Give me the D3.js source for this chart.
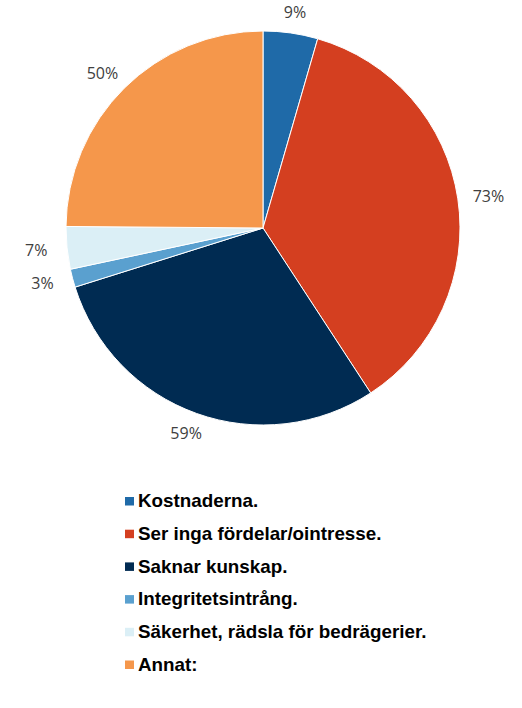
<!DOCTYPE html>
<html lang="sv">
<head>
    <meta charset="UTF-8">
    <title>Pie</title>
    <script src="https://cdn.jsdelivr.net/npm/d3@7"></script>
    <style>
        body { margin: 0; background: #fff; }
        .pct { font-family: "Open Sans", sans-serif; font-size: 16px; fill: #404040; }
        .leg { font-family: "Liberation Sans", Arial, sans-serif; font-weight: bold; font-size: 17.5px; fill: #000; }
    </style>
</head>
<body>
<div id="fig"></div>
<script>
    // survey answers (multiple choice, so percentages add up to more than 100)
    const categories = ["Kostnaderna.", "Ser inga fördelar/ointresse.", "Saknar kunskap.",
        "Integritetsintrång.", "Säkerhet, rädsla för bedrägerier.", "Annat:"]
    const values = [9, 73, 59, 3, 7, 50]
    const colors = ["#1f6aa8", "#d43f20", "#002b52", "#5aa0cf", "#dbeff6", "#f5974b"]

    const width = 522, height = 708
    const cx = 263, cy = 228, radius = 197
    // labels sit on a slightly flattened ring outside the pie
    const labelRx = 228, labelRy = 218

    let svg = d3.select("#fig")
        .append("svg")
        .attr("width", width)
        .attr("height", height)

    let data = categories.map((c, i) => ({name: c, value: values[i], color: colors[i]}))

    let pie = d3.pie().sort(null).value(d => d.value)
    let arcs = pie(data)
    let arc = d3.arc().innerRadius(0).outerRadius(radius)

    let g = svg.append("g").attr("transform", `translate(${cx},${cy})`)

    g.selectAll(".slice")
        .data(arcs)
        .enter()
        .append("path")
        .attr("class", "slice")
        .attr("d", arc)
        .attr("fill", d => d.data.color)
        .attr("stroke", "#fff")
        .attr("stroke-width", 1)

    g.selectAll(".pct")
        .data(arcs)
        .enter()
        .append("text")
        .attr("class", "pct")
        .attr("transform", d => {
            let a = (d.startAngle + d.endAngle) / 2
            return `translate(${labelRx * Math.sin(a)},${-labelRy * Math.cos(a)})`
        })
        .attr("text-anchor", "middle")
        .attr("dy", "0.36em")
        .text(d => `${d.data.value}%`)

    // legend
    const legendY = d3.scalePoint()
        .domain(categories)
        .range([501, 664.5])

    let legend = svg.append("g")
        .selectAll(".legrow")
        .data(data)
        .enter()
        .append("g")
        .attr("class", "legrow")
        .attr("transform", d => `translate(125,${legendY(d.name)})`)

    legend.append("rect")
        .attr("x", 0)
        .attr("y", -4)
        .attr("width", 9)
        .attr("height", 8.5)
        .attr("fill", d => d.color)

    legend.append("text")
        .attr("class", "leg")
        .attr("transform", "translate(13,0) scale(1.075,1)")
        .attr("dy", "0.36em")
        .text(d => d.name)
</script>
</body>
</html>
